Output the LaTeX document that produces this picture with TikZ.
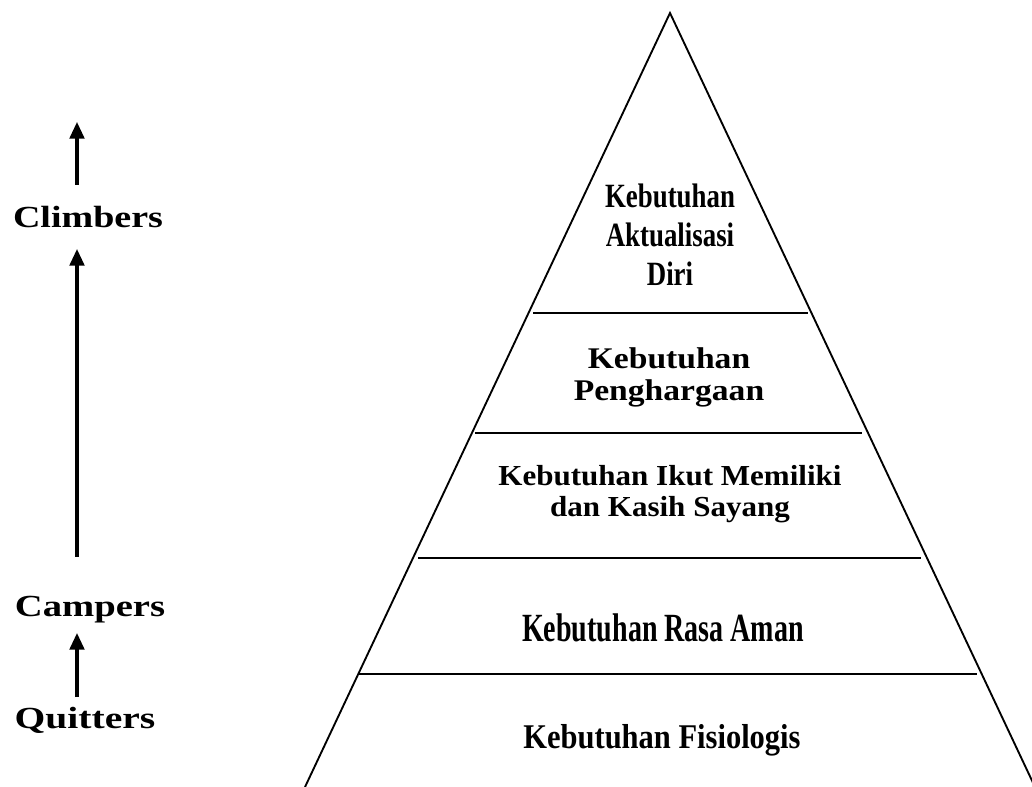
\documentclass[tikz,border=0pt]{standalone}
\usepackage{fontspec}
\setmainfont{Liberation Serif}
\usetikzlibrary{arrows.meta}
\newcommand{\wide}[2]{\scalebox{#1}[1]{#2}}
\newcommand{\stack}[2]{\scalebox{#1}[1]{\begin{tabular}[t]{@{}c@{}}#2\end{tabular}}}

\begin{document}
\begin{tikzpicture}[x=0.75pt,y=-0.75pt,
  txt/.style={anchor=base, inner sep=0pt},
  up/.style={-{Triangle[length=12.5pt,width=11pt]}, line width=2.3pt},
  side/.style={line width=1.4pt}, sep/.style={line width=2pt}]
\useasboundingbox (0,0) rectangle (1032,787);
\coordinate (T) at (670,13); \coordinate (L) at (305,787); \coordinate (R) at (1035,787);
\draw[side] (L) -- (T) -- (R);
\foreach \y/\l/\r in {313/533/808, 433/475/862, 558/418/921, 674/358/977} \draw[sep] (\l,\y) -- (\r,\y);
\node[txt, font=\bfseries\fontsize{25.5}{29}\selectfont] (aktualisasi) at (670,208) {\stack{0.79}{Kebutuhan\\Aktualisasi\\Diri}};
\node[txt, font=\bfseries\fontsize{22.5}{23.5}\selectfont] (penghargaan) at (669,369) {\stack{1.12}{Kebutuhan\\Penghargaan}};
\node[txt, font=\bfseries\fontsize{21.75}{23}\selectfont] (kasih) at (670,486) {\stack{1.07}{Kebutuhan Ikut Memiliki\\dan Kasih Sayang}};
\node[txt, font=\bfseries\fontsize{30}{34}\selectfont] (aman) at (663,642) {\wide{0.70}{Kebutuhan Rasa Aman}};
\node[txt, font=\bfseries\fontsize{26}{30}\selectfont] (fisiologis) at (662,748) {\wide{0.88}{Kebutuhan Fisiologis}};
\foreach \n/\x/\y/\s/\t in {climbers/88/228/1.24/Climbers, campers/90/616/1.26/Campers, quitters/85/728/1.29/Quitters}
  \node[txt, font=\bfseries\fontsize{23}{27}\selectfont] (\n) at (\x,\y) {\wide{\s}{\t}};
\coordinate (c1) at (77,185); \coordinate (c2) at (77,122);
\coordinate (c3) at (77,557); \coordinate (c4) at (77,249);
\coordinate (c5) at (77,697); \coordinate (c6) at (77,633);
\draw[up] (c1) -- (c2); \draw[up] (c3) -- (c4); \draw[up] (c5) -- (c6);
\end{tikzpicture}
\end{document}
